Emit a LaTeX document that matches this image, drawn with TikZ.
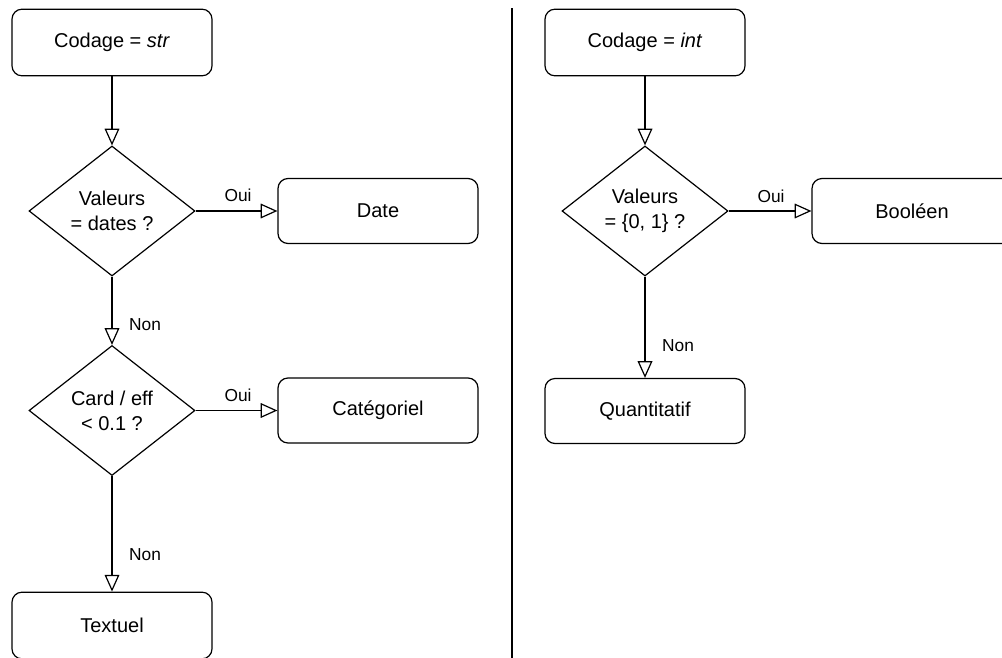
\documentclass[tikz,border=0pt]{standalone}
\usepackage{fontspec}
\setmainfont{Liberation Sans}
\usetikzlibrary{shapes.geometric,arrows.meta}

\tikzset{
  box/.style={draw, rounded corners=7.5pt, line width=0.9pt, minimum width=150pt,
    minimum height=50pt, inner sep=0pt, font=\fontsize{15}{18.75}\selectfont, align=center},
  lowbox/.style={box, minimum height=48.75pt},
  decision/.style={draw, diamond, line width=0.9pt, minimum width=124.5pt,
    minimum height=97.5pt, inner sep=0pt, font=\fontsize{15}{18.75}\selectfont, align=center},
  lbl/.style={font=\fontsize{13}{15.5}\selectfont, inner sep=0pt},
  flow/.style={line width=0.9pt, -{Triangle[open, length=12.5pt, width=11pt, line width=0.9pt]}},
}

\begin{document}
\begin{tikzpicture}[x=0.75pt, y=-0.75pt]
  \useasboundingbox (0,0) rectangle (1002,657);

  % left column: string-coded values
  \node[box] (str) at (112,42.5) {Codage = \textit{str}};
  \node[decision] (dates) at (112,211) {Valeurs\\= dates ?};
  \node[lowbox] (date) at (378,211) {Date};
  \node[decision] (card) at (112,410.5) {Card / eff\\< 0.1 ?};
  \node[lowbox] (cat) at (378,410.5) {Catégoriel};
  \node[box] (text) at (112,625.5) {Textuel};

  \draw[flow] (str) -- (dates);
  \draw[flow] (dates) -- (date);
  \draw[flow] (dates) -- (card);
  \draw[flow] (card) -- (cat);
  \draw[flow] (card) -- (text);

  \node[lbl] (oui1) at (238,195) {Oui};
  \node[lbl] (non1) at (145,324.5) {Non};
  \node[lbl] (oui2) at (238,395) {Oui};
  \node[lbl] (non2) at (145,555) {Non};

  % separator between the two cases
  \coordinate (septop) at (512,8);
  \coordinate (sepbot) at (512,660);
  \draw[line width=0.9pt] (septop) -- (sepbot);

  % right column: integer-coded values
  \node[box] (int) at (645,42.5) {Codage = \textit{int}};
  \node[decision] (bin) at (645,211) {Valeurs\\= \{0, 1\} ?};
  \node[lowbox] (bool) at (912,211) {Booléen};
  \node[lowbox] (quant) at (645,411) {Quantitatif};

  \draw[flow] (int) -- (bin);
  \draw[flow] (bin) -- (bool);
  \draw[flow] (bin) -- (quant);

  \node[lbl] (oui3) at (771,196) {Oui};
  \node[lbl] (non3) at (678,346) {Non};
\end{tikzpicture}
\end{document}
